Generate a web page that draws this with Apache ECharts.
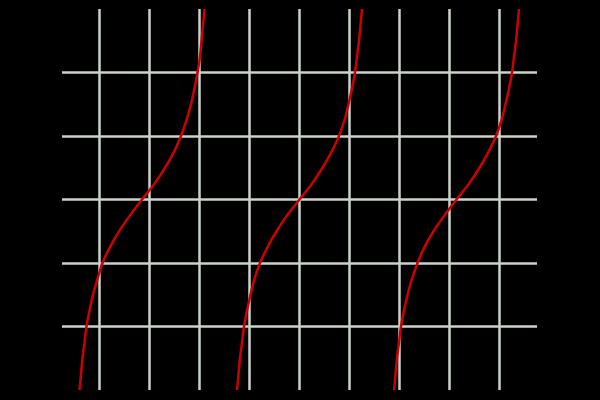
<!DOCTYPE html>
<html>
<head>
<meta charset="utf-8">
<script src="https://cdn.jsdelivr.net/npm/echarts@6/dist/echarts.min.js"></script>
<style>html,body{margin:0;padding:0;background:#000;}#c{width:600px;height:400px;}</style>
</head>
<body>
<div id="c"></div>
<script>
// Tick / grid positions
const xTicks = [-4, -3, -2, -1, 0, 1, 2, 3, 4];
const yTicks = [-2, -1, 0, 1, 2];

// Curve values (three branches)
const yVals = [-3, -2.75, -2.5, -2.25, -2, -1.75, -1.5, -1.25, -1, -0.75, -0.5, -0.25, 0,
               0.25, 0.5, 0.75, 1, 1.25, 1.5, 1.75, 2, 2.25, 2.5, 2.75, 3];
const branch1X = [-4.40, -4.37, -4.34, -4.30, -4.26, -4.20, -4.13, -4.04, -3.94, -3.79, -3.61, -3.39, -3.15,
                  -2.90, -2.69, -2.51, -2.37, -2.26, -2.17, -2.10, -2.04, -1.99, -1.96, -1.93, -1.90];
const branch2X = [-1.25, -1.22, -1.19, -1.15, -1.11, -1.05, -0.98, -0.90, -0.79, -0.64, -0.46, -0.25, 0,
                  0.25, 0.46, 0.64, 0.79, 0.90, 0.98, 1.05, 1.11, 1.15, 1.19, 1.22, 1.25];
const branch3X = [1.89, 1.92, 1.95, 1.99, 2.03, 2.09, 2.16, 2.25, 2.36, 2.50, 2.68, 2.90, 3.14,
                  3.39, 3.60, 3.78, 3.93, 4.04, 4.12, 4.19, 4.25, 4.29, 4.33, 4.36, 4.39];

function zip(xs, ys) { return xs.map((x, i) => [x, ys[i]]); }

const gridColor = '#cad2ca';
const chart = echarts.init(document.getElementById('c'));
const curveStyle = { color: '#cc0000', width: 2.5 };
function branch(xs) {
  return {
    type: 'line', data: zip(xs, yVals), smooth: 0.3, showSymbol: false,
    lineStyle: curveStyle, itemStyle: { color: '#cc0000' }, z: 5, silent: true
  };
}
chart.setOption({
  backgroundColor: '#000',
  animation: false,
  grid: { left: 62, right: 63, top: 9, bottom: 10 },
  xAxis: { type: 'value', min: -4.75, max: 4.75, axisLine: { show: false }, axisTick: { show: false }, axisLabel: { show: false }, splitLine: { show: false } },
  yAxis: { type: 'value', min: -3, max: 3, axisLine: { show: false }, axisTick: { show: false }, axisLabel: { show: false }, splitLine: { show: false } },
  series: [
    {
      type: 'line', data: [], z: 1, silent: true,
      markLine: {
        silent: true, symbol: 'none', label: { show: false },
        lineStyle: { color: gridColor, width: 2.5, type: 'solid' },
        data: xTicks.map(v => ({ xAxis: v })).concat(yTicks.map(v => ({ yAxis: v })))
      }
    },
    branch(branch1X),
    branch(branch2X),
    branch(branch3X)
  ]
});
</script>
</body>
</html>
